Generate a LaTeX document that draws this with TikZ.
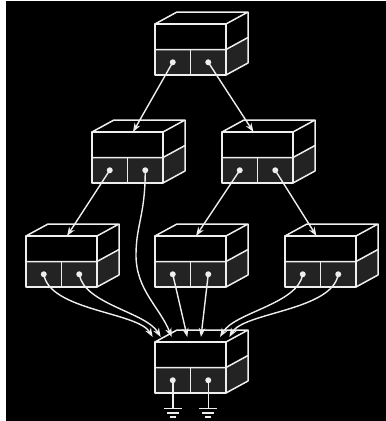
\documentclass[tikz,border=0pt]{standalone}
\usetikzlibrary{arrows.meta}

\definecolor{cellgray}{HTML}{232323}
\definecolor{linewhite}{HTML}{EEEEEE}

\tikzset{
  boxline/.style={draw=linewhite, line width=1.5pt, line join=round},
  wire/.style={draw=linewhite, line width=1.4pt, -{Stealth[length=9pt,width=6.5pt]}},
  pics/cabinet/.style={code={
    % lower cells and lower side face
    \fill[cellgray] (0,25.5) rectangle (71,51);
    \fill[cellgray] (71,25.5) -- (93,13.5) -- (93,39) -- (71,51) -- cycle;
    % front face
    \draw[boxline] (0,0) rectangle (71,51);
    \draw[boxline] (0,25.5) -- (71,25.5) -- (93,13.5);
    \draw[boxline] (35.5,25.5) -- (35.5,51);
    % top and side
    \draw[boxline] (0,0) -- (22,-12) -- (93,-12) -- (71,0);
    \draw[boxline] (93,-12) -- (93,39) -- (71,51);
    \coordinate (-dl) at (17.75,38.25);
    \coordinate (-dr) at (53.25,38.25);
    \coordinate (-inl) at (41,0);
    \coordinate (-inr) at (31.5,0);
    \fill[linewhite] (-dl) circle (3pt) (-dr) circle (3pt);
  }}
}

\begin{document}
\begin{tikzpicture}[x=1pt, y=-1pt]
  \fill[white] (0,0) rectangle (386,421);
  \fill[black] (6,1) rectangle (386,421);
  \useasboundingbox (0,0) rectangle (386,421);

  % boxes
  \pic (A) at (155,24) {cabinet};
  \pic (B) at (92,132) {cabinet};
  \pic (C) at (222,132) {cabinet};
  \pic (D) at (26,236) {cabinet};
  \pic (E) at (155,236) {cabinet};
  \pic (F) at (285,236) {cabinet};
  \pic (G) at (155,342) {cabinet};

  % arrival points on top of G
  \foreach \k/\dx in {1/-2.3, 2/5.7, 3/16.7, 4/32.3, 5/46, 6/65, 7/74.3}
    \coordinate (G-t\k) at (155+\dx,337);

  % straight pointers
  \draw[wire] (A-dl) -- (B-inl);
  \draw[wire] (A-dr) -- (C-inr);
  \draw[wire] (B-dl) -- (D-inl);
  \draw[wire] (C-dl) -- (E-inl);
  \draw[wire] (C-dr) -- (F-inr);

  % pointers into G
  \draw[wire] (D-dl) .. controls +(6,36.5) and +(-15,-25) .. (G-t1);
  \draw[wire] (D-dr) .. controls +(5,30) and +(-15,-25) .. (G-t2);
  \draw[wire] (B-dr) .. controls +(0,45) and +(0,-30) .. (136,255)
                     .. controls +(0,35) and +(-12,-30) .. (G-t3);
  \draw[wire] (E-dl) -- (G-t4);
  \draw[wire] (E-dr) -- (G-t5);
  \draw[wire] (F-dl) .. controls +(-5,30) and +(15,-25) .. (G-t6);
  \draw[wire] (F-dr) .. controls +(-6,36.5) and +(15,-25) .. (G-t7);

  % grounds
  \foreach \g in {dl,dr} {
    \draw[boxline] (G-\g) -- ++(0,28);
    \draw[boxline] ([shift={(-9,28)}]G-\g) -- ++(18,0);
    \draw[boxline] ([shift={(-6,32.5)}]G-\g) -- ++(12,0);
    \draw[boxline] ([shift={(-3,36.5)}]G-\g) -- ++(6,0);
  }
\end{tikzpicture}
\end{document}
